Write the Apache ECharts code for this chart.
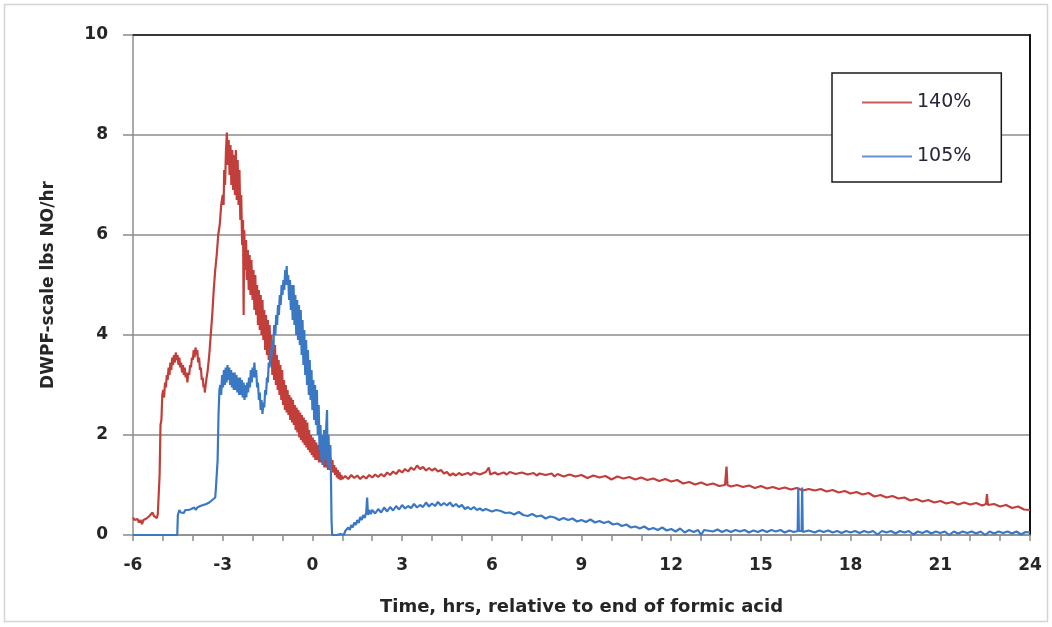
<!DOCTYPE html>
<html>
<head>
<meta charset="utf-8">
<script src="https://cdn.jsdelivr.net/npm/echarts@6/dist/echarts.min.js"></script>
<style>
  html, body { margin: 0; padding: 0; background: #fff; }
  #chart { width: 1052px; height: 627px; }
</style>
</head>
<body>
<div id="chart"></div>
<script>
// ---- Data ----
const seriesNames = ['140%', '105%'];
const xTicks = [-6, -3, 0, 3, 6, 9, 12, 15, 18, 21, 24];
const yTicks = [0, 2, 4, 6, 8, 10];

// 140% run: [time (hrs, relative to end of formic acid), lbs NO/hr]
const red140 = [
  [-6.0,0.35],[-5.95,0.3],[-5.9,0.28],[-5.85,0.32],[-5.8,0.25],[-5.75,0.3],[-5.7,0.22],[-5.65,0.3],[-5.6,0.28],[-5.55,0.33],
  [-5.5,0.3],[-5.45,0.38],[-5.4,0.34],[-5.35,0.45],[-5.3,0.38],[-5.25,0.4],[-5.2,0.34],[-5.17,0.42],[-5.14,0.45],[-5.11,1.2],
  [-5.08,2.2],[-5.05,2.3],[-5.02,2.8],[-4.99,2.9],[-4.96,2.75],[-4.93,3.05],[-4.9,2.95],[-4.87,3.2],[-4.84,3.1],[-4.81,3.35],
  [-4.78,3.2],[-4.75,3.45],[-4.72,3.3],[-4.69,3.55],[-4.66,3.4],[-4.63,3.6],[-4.6,3.45],[-4.57,3.65],[-4.54,3.5],[-4.51,3.6],
  [-4.48,3.4],[-4.45,3.55],[-4.42,3.35],[-4.39,3.45],[-4.36,3.25],[-4.33,3.4],[-4.3,3.2],[-4.27,3.35],[-4.24,3.15],[-4.21,3.25],
  [-4.18,3.05],[-4.15,3.25],[-4.12,3.2],[-4.09,3.4],[-4.06,3.35],[-4.03,3.55],[-4.0,3.5],[-3.97,3.7],[-3.94,3.55],[-3.91,3.75],
  [-3.88,3.6],[-3.85,3.7],[-3.82,3.45],[-3.79,3.55],[-3.76,3.3],[-3.73,3.35],[-3.7,3.1],[-3.67,3.15],[-3.64,2.95],[-3.61,3.0],
  [-3.6,2.85],[-3.55,3.1],[-3.5,3.3],[-3.45,3.6],[-3.4,4.0],[-3.35,4.4],[-3.3,4.9],[-3.25,5.3],[-3.2,5.6],[-3.15,6.0],
  [-3.1,6.2],[-3.05,6.6],[-3.0,6.8],[-2.97,6.6],[-2.95,7.3],[-2.92,7.0],[-2.89,7.7],[-2.86,8.05],[-2.83,7.4],[-2.8,7.9],
  [-2.77,7.2],[-2.74,7.8],[-2.71,7.0],[-2.68,7.7],[-2.65,6.9],[-2.62,7.6],[-2.59,6.8],[-2.56,7.7],[-2.53,6.7],[-2.5,7.5],
  [-2.47,6.6],[-2.44,7.3],[-2.41,6.3],[-2.38,6.8],[-2.35,5.8],[-2.32,6.3],[-2.3,4.4],[-2.28,6.1],[-2.25,5.3],[-2.22,5.9],
  [-2.19,5.1],[-2.16,5.7],[-2.13,4.9],[-2.1,5.6],[-2.07,4.8],[-2.04,5.5],[-2.0,4.7],[-1.97,5.3],[-1.94,4.5],[-1.91,5.2],
  [-1.88,4.4],[-1.85,5.0],[-1.82,4.2],[-1.79,4.9],[-1.76,4.1],[-1.73,4.8],[-1.7,4.0],[-1.67,4.7],[-1.64,3.9],[-1.61,4.5],
  [-1.58,3.7],[-1.55,4.4],[-1.52,3.6],[-1.49,4.3],[-1.46,3.5],[-1.43,4.2],[-1.4,3.4],[-1.37,4.0],[-1.34,3.2],[-1.31,3.9],
  [-1.28,3.1],[-1.25,3.8],[-1.22,3.0],[-1.19,3.6],[-1.16,2.9],[-1.13,3.5],[-1.1,2.8],[-1.07,3.4],[-1.04,2.7],[-1.01,3.3],
  [-0.98,2.6],[-0.95,3.1],[-0.92,2.5],[-0.89,3.0],[-0.86,2.45],[-0.83,2.9],[-0.8,2.4],[-0.77,2.8],[-0.74,2.3],[-0.71,2.75],
  [-0.68,2.25],[-0.65,2.7],[-0.62,2.2],[-0.59,2.6],[-0.56,2.1],[-0.53,2.55],[-0.5,2.05],[-0.47,2.5],[-0.44,1.95],[-0.41,2.45],
  [-0.38,1.9],[-0.35,2.4],[-0.32,1.85],[-0.29,2.35],[-0.26,1.8],[-0.23,2.3],[-0.2,1.75],[-0.17,2.25],[-0.14,1.7],[-0.11,2.1],
  [-0.08,1.65],[-0.05,2.0],[-0.02,1.6],[0.01,1.95],[0.04,1.55],[0.07,1.9],[0.1,1.5],[0.13,1.85],[0.16,1.5],[0.19,1.8],
  [0.22,1.45],[0.25,1.8],[0.28,1.45],[0.31,1.75],[0.34,1.4],[0.37,1.7],[0.4,1.35],[0.43,1.7],[0.46,1.35],[0.49,1.65],
  [0.52,1.3],[0.55,1.6],[0.58,1.3],[0.61,1.55],[0.64,1.25],[0.67,1.5],[0.7,1.25],[0.73,1.4],[0.76,1.2],[0.79,1.35],
  [0.82,1.15],[0.85,1.3],[0.88,1.12],[0.91,1.25],[0.94,1.1],[0.97,1.2],[1.0,1.12],[1.1,1.18],[1.2,1.12],[1.3,1.2],
  [1.4,1.14],[1.5,1.19],[1.6,1.12],[1.7,1.18],[1.8,1.13],[1.9,1.2],[2.0,1.15],[2.1,1.21],[2.2,1.16],[2.3,1.22],
  [2.4,1.17],[2.5,1.25],[2.6,1.2],[2.7,1.27],[2.8,1.22],[2.9,1.3],[3.0,1.25],[3.1,1.32],[3.2,1.27],[3.3,1.35],
  [3.4,1.3],[3.5,1.39],[3.6,1.32],[3.7,1.36],[3.8,1.29],[3.9,1.34],[4.0,1.29],[4.1,1.33],[4.2,1.27],[4.3,1.3],
  [4.4,1.23],[4.5,1.26],[4.6,1.19],[4.7,1.23],[4.8,1.19],[4.9,1.24],[5.0,1.2],[5.2,1.24],[5.3,1.2],[5.4,1.25],
  [5.6,1.21],[5.8,1.26],[5.9,1.35],[5.95,1.21],[6.1,1.25],[6.2,1.21],[6.4,1.25],[6.5,1.21],[6.6,1.26],[6.8,1.22],
  [7.0,1.25],[7.2,1.21],[7.4,1.24],[7.5,1.19],[7.6,1.23],[7.8,1.2],[8.0,1.23],[8.1,1.17],[8.2,1.22],[8.4,1.17],
  [8.6,1.21],[8.8,1.17],[9.0,1.2],[9.2,1.14],[9.4,1.19],[9.6,1.15],[9.8,1.18],[10.0,1.11],[10.2,1.17],[10.4,1.13],
  [10.6,1.16],[10.8,1.11],[11.0,1.15],[11.2,1.1],[11.4,1.13],[11.6,1.08],[11.8,1.12],[12.0,1.07],[12.2,1.1],[12.4,1.03],
  [12.6,1.06],[12.8,1.01],[13.0,1.05],[13.2,1.0],[13.4,1.03],[13.6,0.98],[13.8,1.0],[13.85,1.37],[13.88,1.0],[14.0,0.97],
  [14.2,1.0],[14.4,0.96],[14.6,0.99],[14.8,0.94],[15.0,0.98],[15.2,0.93],[15.4,0.96],[15.6,0.92],[15.8,0.95],[16.0,0.91],
  [16.2,0.94],[16.4,0.89],[16.6,0.92],[16.8,0.89],[17.0,0.92],[17.2,0.87],[17.4,0.9],[17.6,0.85],[17.8,0.88],[18.0,0.83],
  [18.2,0.86],[18.4,0.81],[18.6,0.84],[18.8,0.77],[19.0,0.8],[19.2,0.75],[19.4,0.78],[19.6,0.73],[19.8,0.75],[20.0,0.69],
  [20.2,0.72],[20.4,0.67],[20.6,0.7],[20.8,0.65],[21.0,0.68],[21.2,0.63],[21.4,0.66],[21.6,0.61],[21.8,0.65],[22.0,0.61],
  [22.2,0.64],[22.4,0.59],[22.53,0.62],[22.56,0.82],[22.59,0.6],[22.8,0.62],[23.0,0.57],[23.2,0.6],[23.4,0.54],[23.6,0.57],
  [23.8,0.51],[24.0,0.5]
];

// 105% run: [time (hrs), lbs NO/hr]
const blue105 = [
  [-6.0,0],[-4.52,0],[-4.5,0.4],[-4.45,0.5],[-4.4,0.45],[-4.35,0.48],[-4.3,0.44],[-4.25,0.5],[-4.2,0.46],[-4.15,0.5],
  [-4.1,0.47],[-4.05,0.52],[-4.0,0.5],[-3.95,0.55],[-3.9,0.5],[-3.85,0.55],[-3.8,0.52],[-3.75,0.58],[-3.7,0.55],[-3.65,0.6],
  [-3.6,0.58],[-3.55,0.62],[-3.5,0.6],[-3.45,0.65],[-3.4,0.62],[-3.35,0.7],[-3.3,0.68],[-3.25,0.75],[-3.22,1.0],[-3.2,1.2],
  [-3.17,1.5],[-3.14,2.4],[-3.11,2.9],[-3.08,3.0],[-3.05,2.8],[-3.02,3.2],[-2.99,2.95],[-2.96,3.3],[-2.93,3.0],[-2.9,3.35],
  [-2.87,3.05],[-2.84,3.4],[-2.81,3.1],[-2.78,3.35],[-2.75,3.0],[-2.72,3.3],[-2.69,2.95],[-2.66,3.25],[-2.63,2.9],[-2.6,3.25],
  [-2.57,2.9],[-2.54,3.2],[-2.51,2.85],[-2.48,3.15],[-2.45,2.8],[-2.42,3.15],[-2.39,2.8],[-2.36,3.1],[-2.33,2.75],[-2.3,3.05],
  [-2.27,2.7],[-2.24,3.0],[-2.21,2.75],[-2.18,3.05],[-2.15,2.85],[-2.12,3.15],[-2.09,2.95],[-2.06,3.3],[-2.03,3.05],[-2.0,3.35],
  [-1.97,3.15],[-1.94,3.45],[-1.91,3.15],[-1.88,3.3],[-1.85,2.95],[-1.82,3.05],[-1.79,2.7],[-1.76,2.85],[-1.73,2.5],[-1.7,2.7],
  [-1.67,2.42],[-1.64,2.65],[-1.61,2.55],[-1.58,2.9],[-1.55,2.8],[-1.52,3.15],[-1.49,3.05],[-1.46,3.45],[-1.43,3.35],[-1.4,3.7],
  [-1.37,3.55],[-1.34,3.9],[-1.31,3.7],[-1.28,4.2],[-1.24,4.0],[-1.21,4.4],[-1.18,4.2],[-1.15,4.6],[-1.12,4.4],[-1.09,4.8],
  [-1.06,4.6],[-1.03,5.0],[-1.0,4.8],[-0.97,5.1],[-0.94,4.9],[-0.91,5.3],[-0.88,5.0],[-0.86,5.38],[-0.84,5.0],[-0.81,5.2],
  [-0.78,4.7],[-0.75,5.1],[-0.72,4.5],[-0.69,5.0],[-0.66,4.3],[-0.63,5.0],[-0.6,4.2],[-0.57,4.8],[-0.54,4.0],[-0.51,4.7],
  [-0.48,3.9],[-0.45,4.6],[-0.42,3.8],[-0.39,4.5],[-0.36,3.6],[-0.33,4.3],[-0.3,3.4],[-0.27,4.1],[-0.24,3.2],[-0.21,3.9],
  [-0.18,3.0],[-0.15,3.7],[-0.12,2.8],[-0.09,3.5],[-0.06,2.7],[-0.03,3.3],[0.0,2.5],[0.03,3.1],[0.06,2.3],[0.09,3.0],
  [0.12,2.2],[0.15,2.9],[0.18,2.0],[0.21,2.6],[0.24,1.7],[0.27,2.2],[0.3,1.5],[0.33,2.0],[0.36,1.4],[0.39,2.1],
  [0.42,1.5],[0.45,2.0],[0.49,2.5],[0.51,1.4],[0.54,2.0],[0.57,1.3],[0.6,1.8],[0.62,1.2],[0.64,0.3],[0.66,0],
  [0.8,0],[0.95,0.02],[1.05,0.0],[1.1,0.08],[1.15,0.04],[1.2,0.15],[1.25,0.1],[1.3,0.2],[1.35,0.15],[1.4,0.25],
  [1.45,0.2],[1.5,0.3],[1.55,0.24],[1.6,0.36],[1.65,0.3],[1.7,0.4],[1.75,0.34],[1.8,0.45],[1.83,0.75],[1.86,0.4],
  [1.9,0.5],[1.95,0.42],[2.0,0.5],[2.1,0.43],[2.2,0.52],[2.3,0.45],[2.4,0.55],[2.5,0.47],[2.6,0.56],[2.7,0.49],
  [2.8,0.58],[2.9,0.51],[3.0,0.6],[3.1,0.53],[3.2,0.58],[3.3,0.54],[3.4,0.62],[3.5,0.55],[3.6,0.6],[3.7,0.56],
  [3.8,0.65],[3.9,0.57],[4.0,0.63],[4.1,0.58],[4.2,0.66],[4.3,0.59],[4.4,0.64],[4.5,0.59],[4.6,0.65],[4.7,0.57],
  [4.8,0.62],[4.9,0.56],[5.0,0.6],[5.1,0.52],[5.2,0.56],[5.3,0.51],[5.4,0.56],[5.5,0.5],[5.6,0.53],[5.7,0.49],
  [5.8,0.52],[6.0,0.47],[6.15,0.5],[6.3,0.48],[6.45,0.44],[6.6,0.45],[6.75,0.41],[6.9,0.46],[7.05,0.4],[7.2,0.38],
  [7.35,0.42],[7.5,0.37],[7.65,0.39],[7.8,0.33],[7.95,0.37],[8.1,0.35],[8.25,0.3],[8.4,0.34],[8.55,0.3],[8.7,0.33],
  [8.85,0.27],[9.0,0.3],[9.15,0.26],[9.3,0.31],[9.45,0.25],[9.6,0.28],[9.75,0.24],[9.9,0.27],[10.05,0.21],[10.2,0.23],
  [10.35,0.18],[10.5,0.21],[10.65,0.15],[10.8,0.17],[10.95,0.13],[11.1,0.17],[11.25,0.11],[11.4,0.14],[11.55,0.1],[11.7,0.15],
  [11.85,0.09],[12.0,0.12],[12.15,0.07],[12.3,0.13],[12.45,0.05],[12.6,0.1],[12.75,0.06],[12.9,0.1],[13.0,0.0],[13.1,0.1],
  [13.4,0.07],[13.55,0.11],[13.7,0.06],[13.85,0.1],[14.0,0.06],[14.15,0.1],[14.3,0.07],[14.45,0.1],[14.6,0.05],[14.75,0.09],
  [14.9,0.06],[15.05,0.1],[15.2,0.06],[15.35,0.1],[15.5,0.07],[15.65,0.1],[15.8,0.05],[15.95,0.09],[16.1,0.06],
  [16.23,0.08],[16.25,0.95],[16.27,0.08],[16.36,0.08],[16.38,0.95],[16.4,0.06],[16.6,0.09],[16.8,0.05],[16.95,0.09],[17.1,0.06],
  [17.25,0.09],[17.4,0.05],[17.55,0.08],[17.7,0.04],[17.85,0.08],[18.0,0.05],[18.15,0.08],[18.3,0.04],[18.45,0.08],[18.6,0.05],
  [18.75,0.08],[18.9,0.01],[19.05,0.08],[19.2,0.05],[19.35,0.08],[19.5,0.03],[19.65,0.08],[19.8,0.05],[19.95,0.08],[20.1,0.01],
  [20.25,0.07],[20.4,0.04],[20.55,0.08],[20.7,0.03],[20.85,0.07],[21.0,0.04],[21.15,0.07],[21.3,0.0],[21.45,0.07],[21.6,0.03],
  [21.75,0.07],[21.9,0.04],[22.05,0.07],[22.2,0.03],[22.35,0.07],[22.5,0.0],[22.65,0.07],[22.8,0.03],[22.95,0.07],[23.1,0.04],
  [23.25,0.07],[23.4,0.03],[23.55,0.07],[23.7,0.01],[23.85,0.06],[24.0,0.05]
];

const xAxisTitle = 'Time, hrs, relative to end of formic acid';
const yAxisTitle = 'DWPF-scale lbs NO/hr';

// ---- Chart ----
const chart = echarts.init(document.getElementById('chart'), null, { renderer: 'canvas' });
const FONT = '"DejaVu Sans", "Liberation Sans", sans-serif';
const GRAY = '#8c8c8c';
const TEXT = '#262626';

chart.setOption({
  animation: false,
  backgroundColor: '#ffffff',
  grid: { left: 133, right: 22, top: 35, bottom: 92, containLabel: false },
  legend: {
    data: seriesNames,
    orient: 'vertical',
    left: 832, top: 73,
    padding: [20, 30, 16, 30],
    itemGap: 35,
    itemWidth: 50, itemHeight: 2,
    icon: 'rect',
    borderColor: '#1a1a1a', borderWidth: 1.5,
    backgroundColor: '#fff',
    textStyle: { fontFamily: FONT, fontSize: 19, color: '#2b2438', padding: [0, 0, 0, 0] }
  },
  xAxis: [{
    type: 'value', min: xTicks[0], max: xTicks[xTicks.length - 1], interval: 3,
    position: 'bottom',
    name: xAxisTitle, nameLocation: 'middle', nameGap: 63,
    nameTextStyle: { fontFamily: FONT, fontSize: 18, fontWeight: 'bold', color: TEXT },
    axisLine: { show: true, onZero: false, lineStyle: { color: GRAY, width: 1.5 } },
    axisTick: { show: true, inside: false, length: 6, lineStyle: { color: GRAY, width: 1.5 } },
    minorTick: { show: true, splitNumber: 3, length: 6, lineStyle: { color: GRAY, width: 1.5 } },
    axisLabel: { margin: 22, fontFamily: FONT, fontSize: 17, fontWeight: 'bold', color: TEXT },
    splitLine: { show: false }
  }, {
    type: 'value', min: xTicks[0], max: xTicks[xTicks.length - 1], interval: 3,
    position: 'top',
    axisLine: { show: true, onZero: false, lineStyle: { color: '#111', width: 1.5 } },
    axisTick: { show: false }, axisLabel: { show: false }, splitLine: { show: false }
  }],
  yAxis: [{
    type: 'value', min: yTicks[0], max: yTicks[yTicks.length - 1], interval: 2,
    position: 'left',
    name: yAxisTitle, nameLocation: 'middle', nameGap: 76, nameRotate: 90,
    nameTextStyle: { fontFamily: FONT, fontSize: 17, fontWeight: 'bold', color: TEXT },
    axisLine: { show: true, onZero: false, lineStyle: { color: GRAY, width: 1.5 } },
    axisTick: { show: true, inside: false, length: 10, lineStyle: { color: GRAY, width: 1.5 } },
    axisLabel: { margin: 25, fontFamily: FONT, fontSize: 17, fontWeight: 'bold', color: TEXT },
    splitLine: { show: true, lineStyle: { color: GRAY, width: 1.5 } }
  }, {
    type: 'value', min: yTicks[0], max: yTicks[yTicks.length - 1], interval: 2,
    position: 'right',
    axisLine: { show: true, onZero: false, lineStyle: { color: '#111', width: 2 } },
    axisTick: { show: false }, axisLabel: { show: false }, splitLine: { show: false }
  }],
  graphic: [{
    type: 'rect', silent: true, z: -10,
    shape: { x: 4.5, y: 4.5, width: 1043, height: 617 },
    style: { fill: 'none', stroke: '#d4d4d4', lineWidth: 1.5 }
  }],
  series: [{
    name: seriesNames[0], type: 'line', data: red140, xAxisIndex: 0, yAxisIndex: 0,
    showSymbol: false, symbol: 'none', smooth: false,
    lineStyle: { color: '#c23e3a', width: 2.2 }, itemStyle: { color: '#cc5a56' }
  }, {
    name: seriesNames[1], type: 'line', data: blue105, xAxisIndex: 0, yAxisIndex: 0,
    showSymbol: false, symbol: 'none', smooth: false,
    lineStyle: { color: '#3a78c4', width: 2.2 }, itemStyle: { color: '#6792cc' }
  }]
});
</script>
</body>
</html>
